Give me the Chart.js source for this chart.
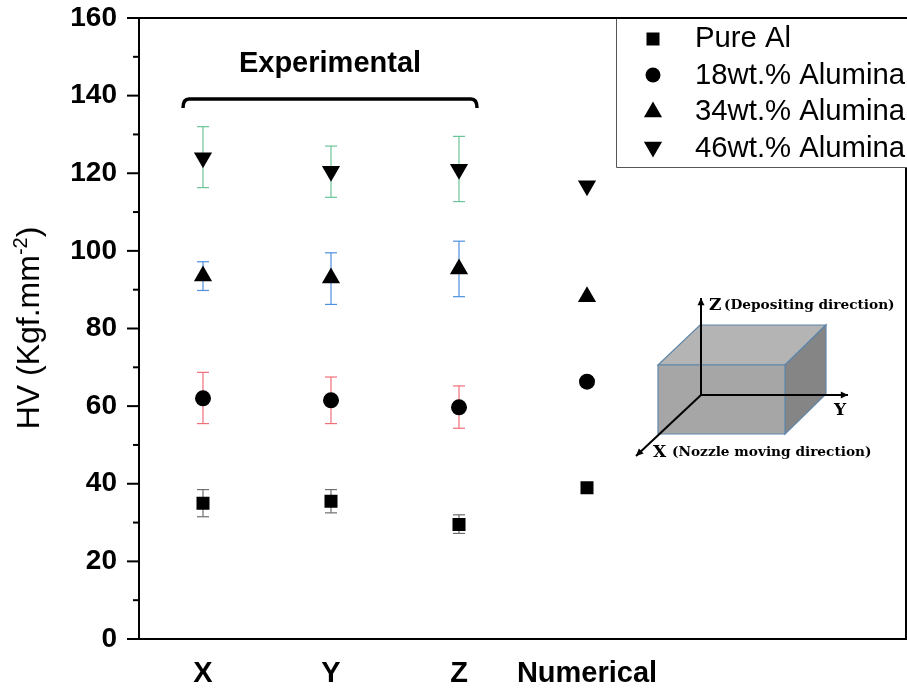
<!DOCTYPE html>
<html>
<head>
<meta charset="utf-8">
<title>HV chart</title>
<script src="https://cdn.jsdelivr.net/npm/chart.js@4"></script>
<style>
    body { margin: 0; background: white; }
    canvas { display: block; }
</style>
</head>
<body>
<canvas id="hvchart" width="907" height="689"></canvas>
<script>
const categories = ['X', 'Y', 'Z', 'Numerical', '', ''];
const seriesNames = ['Pure Al', '18wt.% Alumina', '34wt.% Alumina', '46wt.% Alumina'];

// mean hardness, one value per direction, last one is the numerical result
const pureAl = [35, 35.5, 29.5, 39];
const alumina18 = [62, 61.5, 59.7, 66.3];
const alumina34 = [93.5, 93, 95.3, 88.2];
const alumina46 = [124, 120.5, 121, 116.8];

// error bars, experimental only
const pureAlLow = [31.5, 32.5, 27.2];
const pureAlHigh = [38.5, 38.5, 32];
const alumina18Low = [55.5, 55.5, 54.3];
const alumina18High = [68.7, 67.5, 65.2];
const alumina34Low = [89.8, 86.2, 88.2];
const alumina34High = [97.2, 99.5, 102.5];
const alumina46Low = [116.3, 113.8, 112.7];
const alumina46High = [132, 127, 129.5];

const yTicks = [0, 20, 40, 60, 80, 100, 120, 140, 160];

const errorBars = [
    { low: pureAlLow, high: pureAlHigh, color: '#6e6e6e' },
    { low: alumina18Low, high: alumina18High, color: '#ee6f78' },
    { low: alumina34Low, high: alumina34High, color: '#4f8fe0' },
    { low: alumina46Low, high: alumina46High, color: '#6cc497' }
];

const boldFont = 'bold 29px "Liberation Sans"';
const plainFont = '29.3px "Liberation Sans"';
const titleFont = '32px "Liberation Sans"';
const supFont = '20px "Liberation Sans"';

function line(c, x1, y1, x2, y2) {
    c.beginPath();
    c.moveTo(x1, y1);
    c.lineTo(x2, y2);
    c.stroke();
}

function arrow(c, x1, y1, x2, y2) {
    c.strokeStyle = '#000';
    c.lineWidth = 2;
    line(c, x1, y1, x2, y2);
    const a = Math.atan2(y2 - y1, x2 - x1);
    c.fillStyle = '#000';
    c.beginPath();
    c.moveTo(x2, y2);
    c.lineTo(x2 - 8 * Math.cos(a - 0.45), y2 - 8 * Math.sin(a - 0.45));
    c.lineTo(x2 - 8 * Math.cos(a + 0.45), y2 - 8 * Math.sin(a + 0.45));
    c.closePath();
    c.fill();
}

function face(c, pts, fill) {
    c.fillStyle = fill;
    c.strokeStyle = '#5f86a8';
    c.lineWidth = 1.2;
    c.beginPath();
    pts.forEach(function (p, i) {
        if (i === 0) c.moveTo(p[0], p[1]);
        else c.lineTo(p[0], p[1]);
    });
    c.closePath();
    c.fill();
    c.stroke();
}

const errorBarPlugin = {
    id: 'errorBarPlugin',
    beforeDatasetsDraw(chart) {
        const c = chart.ctx;
        const xs = chart.scales.x;
        const ys = chart.scales.y;
        c.save();
        c.lineWidth = 1.2;
        errorBars.forEach(function (bar) {
            c.strokeStyle = bar.color;
            bar.low.forEach(function (low, i) {
                const x = xs.getPixelForValue(i);
                const y1 = ys.getPixelForValue(low);
                const y2 = ys.getPixelForValue(bar.high[i]);
                line(c, x, y1, x, y2);
                line(c, x - 6, y1, x + 6, y1);
                line(c, x - 6, y2, x + 6, y2);
            });
        });
        c.restore();
    }
};

const framePlugin = {
    id: 'framePlugin',
    afterDraw(chart) {
        const c = chart.ctx;
        const area = chart.chartArea;
        const ys = chart.scales.y;
        c.save();

        // axes and y ticks
        c.strokeStyle = '#000';
        c.lineWidth = 2;
        line(c, area.left, area.top, area.left, area.bottom);
        line(c, area.left - 12, area.bottom, area.right, area.bottom);
        line(c, area.left - 12, area.top, area.right, area.top);
        line(c, 906, area.top, 906, area.bottom);
        for (let v = 10; v < 160; v += 10) {
            const y = ys.getPixelForValue(v);
            line(c, area.left - (v % 20 === 0 ? 12 : 6), y, area.left, y);
        }

        // y title
        c.save();
        c.translate(39, 328);
        c.rotate(-Math.PI / 2);
        c.fillStyle = '#000';
        c.textBaseline = 'alphabetic';
        c.textAlign = 'left';
        c.font = titleFont;
        const t1 = 'HV (Kgf.mm';
        const t2 = '-2';
        const t3 = ')';
        const w1 = c.measureText(t1).width;
        const w3 = c.measureText(t3).width;
        c.font = supFont;
        const w2 = c.measureText(t2).width;
        const total = w1 + w2 + w3;
        c.font = titleFont;
        c.fillText(t1, -total / 2, 0);
        c.font = supFont;
        c.fillText(t2, -total / 2 + w1, -12);
        c.font = titleFont;
        c.fillText(t3, -total / 2 + w1 + w2, 0);
        c.restore();

        // Experimental bracket
        c.strokeStyle = '#000';
        c.lineWidth = 3.5;
        c.lineCap = 'butt';
        c.beginPath();
        c.moveTo(183, 108);
        c.quadraticCurveTo(183, 99, 189, 99);
        c.lineTo(471, 99);
        c.quadraticCurveTo(477, 99, 477, 108);
        c.stroke();
        c.fillStyle = '#000';
        c.font = boldFont;
        c.textAlign = 'center';
        c.textBaseline = 'alphabetic';
        c.fillText('Experimental', 330, 72);

        // legend box
        c.fillStyle = '#fff';
        c.fillRect(616, 18, 291, 149);
        c.strokeStyle = '#555';
        c.lineWidth = 1;
        line(c, 616.5, 18, 616.5, 167.5);
        line(c, 616.5, 167.5, 907, 167.5);
        c.strokeStyle = '#000';
        c.lineWidth = 2;
        line(c, 616, area.top, 907, area.top);

        const rowY = [39, 75, 112, 147];
        const textY = [38, 75, 111, 148];
        c.font = plainFont;
        c.textAlign = 'left';
        c.textBaseline = 'middle';
        chart.data.datasets.forEach(function (ds, i) {
            c.fillStyle = '#000';
            Chart.helpers.drawPoint(c, {
                pointStyle: ds.pointStyle,
                rotation: ds.pointRotation,
                radius: ds.pointStyle === 'circle' ? 7.5 : ds.pointRadius,
                borderWidth: 0
            }, 653, rowY[i]);
            c.fillText(seriesNames[i], 695, textY[i] + 1);
        });

        // inset block with the build directions
        face(c, [[658, 365], [700, 325], [826, 325], [785, 365]], '#b4b4b4');
        face(c, [[785, 365], [826, 325], [826, 394], [785, 434]], '#858585');
        face(c, [[658, 365], [785, 365], [785, 434], [658, 434]], '#a6a6a6');
        arrow(c, 701, 395, 701, 298);
        arrow(c, 701, 395, 848, 395);
        arrow(c, 701, 395, 636, 456);

        c.fillStyle = '#000';
        c.textAlign = 'left';
        c.textBaseline = 'alphabetic';
        c.font = 'bold 17px "DejaVu Serif"';
        c.fillText('Z', 709, 310);
        c.fillText('Y', 834, 415);
        c.fillText('X', 653, 457);
        c.font = 'bold 13.7px "DejaVu Serif"';
        c.fillText('(Depositing direction)', 724, 309);
        c.fillText('(Nozzle moving direction)', 672, 456);

        c.restore();
    }
};

new Chart(document.getElementById('hvchart'), {
    type: 'line',
    data: {
        labels: categories,
        datasets: [
            { label: seriesNames[0], data: pureAl, pointStyle: 'rect', pointRadius: 9.2, pointRotation: 0 },
            { label: seriesNames[1], data: alumina18, pointStyle: 'circle', pointRadius: 8, pointRotation: 0 },
            { label: seriesNames[2], data: alumina34, pointStyle: 'triangle', pointRadius: 10.5, pointRotation: 0 },
            { label: seriesNames[3], data: alumina46, pointStyle: 'triangle', pointRadius: 10.5, pointRotation: 180 }
        ].map(function (ds) {
            return Object.assign(ds, {
                showLine: false,
                backgroundColor: '#000',
                borderColor: '#000',
                pointBorderWidth: 0
            });
        })
    },
    options: {
        responsive: false,
        animation: false,
        layout: { autoPadding: false, padding: { top: 18 } },
        scales: {
            x: {
                offset: true,
                grid: { display: false },
                border: { display: false },
                afterFit(scale) {
                    scale.height = 50;
                    scale.paddingLeft = 0;
                    scale.paddingRight = 0;
                },
                ticks: {
                    autoSkip: false,
                    maxRotation: 0,
                    padding: 10,
                    color: '#000',
                    font: { family: 'Liberation Sans', size: 29, weight: 'bold' }
                }
            },
            y: {
                min: 0,
                max: 160,
                afterFit(scale) {
                    scale.width = 139;
                    scale.paddingTop = 0;
                    scale.paddingBottom = 0;
                },
                afterBuildTicks(scale) { scale.ticks = yTicks.map(function (v) { return { value: v }; }); },
                grid: { display: false },
                border: { display: false },
                ticks: {
                    padding: 14,
                    color: '#000',
                    font: { family: 'Liberation Sans', size: 28, weight: 'bold' }
                }
            }
        },
        plugins: {
            legend: { display: false },
            tooltip: { enabled: false }
        }
    },
    plugins: [errorBarPlugin, framePlugin]
});
</script>
</body>
</html>
